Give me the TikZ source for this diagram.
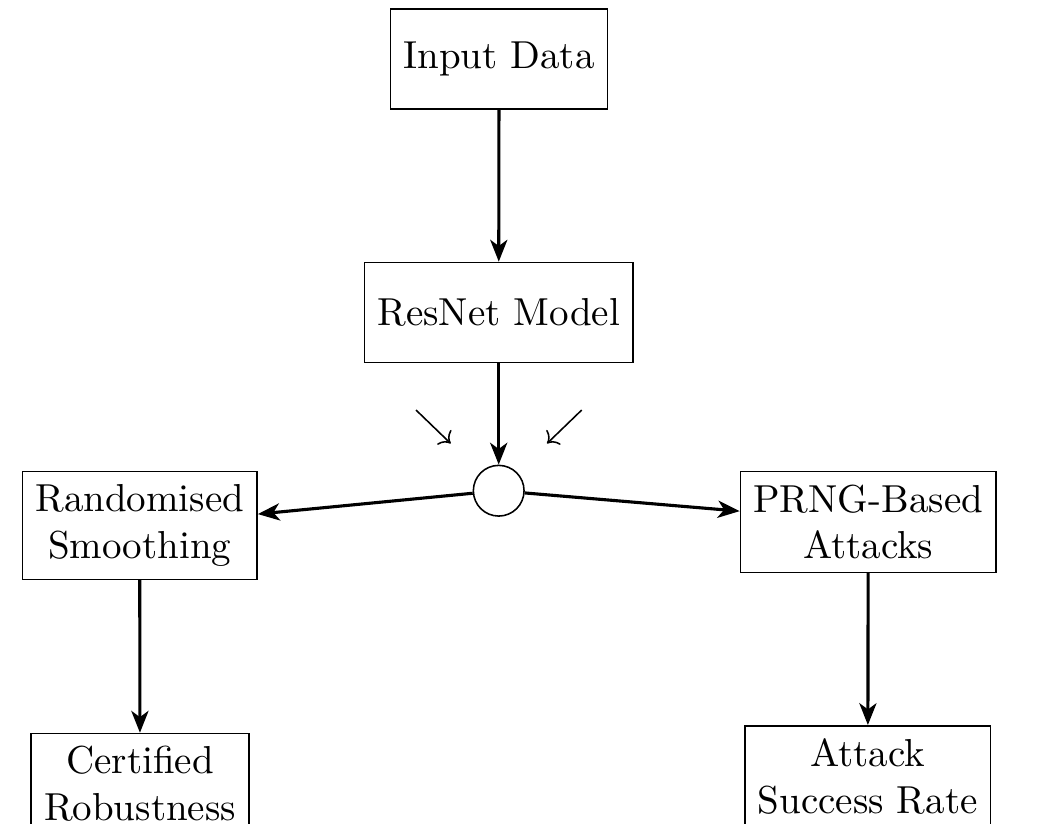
\documentclass[tikz,border=0pt]{standalone}
\usetikzlibrary{arrows.meta}
\begin{document}
\begin{tikzpicture}[x=0.25641pt, y=-0.25641pt,
  box/.style={draw, rectangle, align=center, minimum height=25.7pt, inner sep=3.33pt},
  junction/.style={draw, circle, minimum size=13pt, inner sep=0pt},
  flow/.style={thick, -{Stealth[length=5.6pt, width=4.4pt, inset=1.6pt]}},
  hint/.style={->}]
\useasboundingbox (0,0) rectangle (1039,823);
\clip (0,0) rectangle (1039,823);
\node[box] (input) at (499,59) {Input Data};
\node[box] (resnet) at (498.7,312.5) {ResNet Model};
\node[junction] (hub) at (498.7,490.7) {};
\node[box] (rs) at (139.7,525.5) {Randomised\\Smoothing};
\node[box] (prng) at (868.2,522) {PRNG-Based\\Attacks};
\node[box, anchor=north] (cert) at (140,732.7) {Certified\\Robustness};
\node[box, anchor=north] (asr) at (867.8,725) {Attack\\Success Rate};
\coordinate (l1) at (416,410);
\coordinate (l2) at (450.7,443.5);
\coordinate (r1) at (581.7,410);
\coordinate (r2) at (547,443.5);
\draw[flow] (input) -- (resnet);
\draw[flow] (resnet) -- (hub);
\draw[flow] (hub) -- (rs);
\draw[flow] (hub) -- (prng);
\draw[flow] (rs) -- (cert);
\draw[flow] (prng) -- (asr);
\draw[hint] (l1) -- (l2);
\draw[hint] (r1) -- (r2);
\end{tikzpicture}
\end{document}
